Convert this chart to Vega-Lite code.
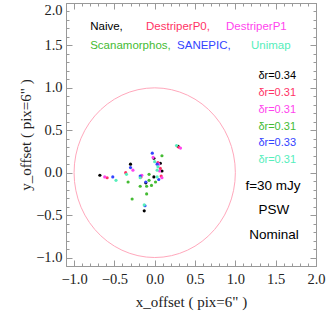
{
  "$schema": "https://vega.github.io/schema/vega-lite/v6.json",
  "width": 250,
  "height": 263,
  "autosize": {"type": "none"},
  "padding": {"left": 66, "top": 3, "right": 11, "bottom": 53},
  "background": "white",
  "config": {
    "view": {"stroke": "#999999", "strokeWidth": 1},
    "axis": {
      "domain": false,
      "grid": false,
      "labelFont": "Liberation Serif",
      "labelFontSize": 14.5,
      "labelColor": "#222222",
      "titleFont": "Liberation Serif",
      "titleFontSize": 15,
      "titleFontWeight": "normal",
      "titleColor": "#222222",
      "tickColor": "#999999",
      "labelOverlap": false,
      "labelFlush": false
    },
    "text": {"font": "Liberation Sans"}
  },
  "datasets": {
    "one": [{}],
    "circle": [
      {"i":0,"x":1,"y":0},{"i":1,"x":0.9945,"y":0.1045},{"i":2,"x":0.9781,"y":0.2079},{"i":3,"x":0.9511,"y":0.309},{"i":4,"x":0.9135,"y":0.4067},{"i":5,"x":0.866,"y":0.5},{"i":6,"x":0.809,"y":0.5878},{"i":7,"x":0.7431,"y":0.6691},{"i":8,"x":0.6691,"y":0.7431},{"i":9,"x":0.5878,"y":0.809},{"i":10,"x":0.5,"y":0.866},{"i":11,"x":0.4067,"y":0.9135},{"i":12,"x":0.309,"y":0.9511},{"i":13,"x":0.2079,"y":0.9781},{"i":14,"x":0.1045,"y":0.9945},{"i":15,"x":0,"y":1},
      {"i":16,"x":-0.1045,"y":0.9945},{"i":17,"x":-0.2079,"y":0.9781},{"i":18,"x":-0.309,"y":0.9511},{"i":19,"x":-0.4067,"y":0.9135},{"i":20,"x":-0.5,"y":0.866},{"i":21,"x":-0.5878,"y":0.809},{"i":22,"x":-0.6691,"y":0.7431},{"i":23,"x":-0.7431,"y":0.6691},{"i":24,"x":-0.809,"y":0.5878},{"i":25,"x":-0.866,"y":0.5},{"i":26,"x":-0.9135,"y":0.4067},{"i":27,"x":-0.9511,"y":0.309},{"i":28,"x":-0.9781,"y":0.2079},{"i":29,"x":-0.9945,"y":0.1045},{"i":30,"x":-1,"y":0},
      {"i":31,"x":-0.9945,"y":-0.1045},{"i":32,"x":-0.9781,"y":-0.2079},{"i":33,"x":-0.9511,"y":-0.309},{"i":34,"x":-0.9135,"y":-0.4067},{"i":35,"x":-0.866,"y":-0.5},{"i":36,"x":-0.809,"y":-0.5878},{"i":37,"x":-0.7431,"y":-0.6691},{"i":38,"x":-0.6691,"y":-0.7431},{"i":39,"x":-0.5878,"y":-0.809},{"i":40,"x":-0.5,"y":-0.866},{"i":41,"x":-0.4067,"y":-0.9135},{"i":42,"x":-0.309,"y":-0.9511},{"i":43,"x":-0.2079,"y":-0.9781},{"i":44,"x":-0.1045,"y":-0.9945},{"i":45,"x":0,"y":-1},
      {"i":46,"x":0.1045,"y":-0.9945},{"i":47,"x":0.2079,"y":-0.9781},{"i":48,"x":0.309,"y":-0.9511},{"i":49,"x":0.4067,"y":-0.9135},{"i":50,"x":0.5,"y":-0.866},{"i":51,"x":0.5878,"y":-0.809},{"i":52,"x":0.6691,"y":-0.7431},{"i":53,"x":0.7431,"y":-0.6691},{"i":54,"x":0.809,"y":-0.5878},{"i":55,"x":0.866,"y":-0.5},{"i":56,"x":0.9135,"y":-0.4067},{"i":57,"x":0.9511,"y":-0.309},{"i":58,"x":0.9781,"y":-0.2079},{"i":59,"x":0.9945,"y":-0.1045},{"i":60,"x":1,"y":0}
    ],
    "pts": [
      {"m":"Naive","x":-0.68,"y":-0.03},{"m":"Naive","x":-0.30,"y":0.10},{"m":"Naive","x":-0.13,"y":-0.45},{"m":"Naive","x":-0.01,"y":0.17},{"m":"Naive","x":0.07,"y":0.11},{"m":"Naive","x":0.09,"y":0.02},{"m":"Naive","x":-0.01,"y":-0.05},{"m":"Naive","x":-0.11,"y":-0.12},{"m":"Naive","x":0.29,"y":0.31},
      {"m":"DestriperP0","x":-0.59,"y":-0.06},{"m":"DestriperP0","x":-0.36,"y":0.00},{"m":"DestriperP0","x":-0.17,"y":-0.05},{"m":"DestriperP0","x":0.04,"y":0.12},{"m":"DestriperP0","x":0.07,"y":0.05},{"m":"DestriperP0","x":0.08,"y":-0.04},{"m":"DestriperP0","x":0.30,"y":0.30},
      {"m":"DestriperP1","x":-0.62,"y":-0.05},{"m":"DestriperP1","x":-0.27,"y":0.03},{"m":"DestriperP1","x":-0.16,"y":-0.03},{"m":"DestriperP1","x":-0.02,"y":0.18},{"m":"DestriperP1","x":0.06,"y":0.02},{"m":"DestriperP1","x":0.09,"y":-0.06},{"m":"DestriperP1","x":0.32,"y":0.29},{"m":"DestriperP1","x":0.05,"y":0.10},
      {"m":"Scanamorphos","x":-0.33,"y":-0.11},{"m":"Scanamorphos","x":-0.28,"y":-0.31},{"m":"Scanamorphos","x":-0.18,"y":-0.16},{"m":"Scanamorphos","x":-0.10,"y":-0.25},{"m":"Scanamorphos","x":-0.10,"y":-0.16},{"m":"Scanamorphos","x":-0.07,"y":-0.09},{"m":"Scanamorphos","x":0.01,"y":-0.11},{"m":"Scanamorphos","x":0.09,"y":0.20},{"m":"Scanamorphos","x":-0.07,"y":-0.02},{"m":"Scanamorphos","x":-0.04,"y":-0.15},
      {"m":"SANEPIC","x":-0.52,"y":-0.05},{"m":"SANEPIC","x":-0.30,"y":0.06},{"m":"SANEPIC","x":-0.18,"y":-0.04},{"m":"SANEPIC","x":-0.12,"y":-0.39},{"m":"SANEPIC","x":-0.03,"y":0.23},{"m":"SANEPIC","x":0.05,"y":-0.08},{"m":"SANEPIC","x":-0.11,"y":-0.11},{"m":"SANEPIC","x":0.03,"y":0.10},
      {"m":"Unimap","x":-0.48,"y":-0.09},{"m":"Unimap","x":-0.35,"y":-0.02},{"m":"Unimap","x":-0.13,"y":-0.38},{"m":"Unimap","x":0.00,"y":0.13},{"m":"Unimap","x":0.04,"y":0.07},{"m":"Unimap","x":0.03,"y":0.03},{"m":"Unimap","x":0.27,"y":0.32},{"m":"Unimap","x":-0.18,"y":-0.06},{"m":"Unimap","x":0.03,"y":-0.05}
    ]
  },
  "resolve": {"axis": {"x": "independent", "y": "independent"}},
  "layer": [
    {
      "data": {"name": "circle"},
      "mark": {"type": "line", "color": "#ffa8bc", "strokeWidth": 1},
      "encoding": {
        "x": {"field": "x", "type": "quantitative", "scale": {"domain": [-1.1, 2.0], "nice": false, "zero": false},
              "axis": {"orient": "bottom", "values": [-1, -0.5, 0, 0.5, 1, 1.5, 2], "format": ".1f", "offset": -6, "tickSize": 6, "labelPadding": 6, "title": "x_offset ( pix=6\" )", "titlePadding": 9}},
        "y": {"field": "y", "type": "quantitative", "scale": {"domain": [-1.1, 2.0], "nice": false, "zero": false},
              "axis": {"orient": "left", "values": [-1, -0.5, 0, 0.5, 1, 1.5, 2], "format": ".1f", "offset": -6, "tickSize": 6, "labelPadding": 4, "labelFlush": true, "title": "y_offset ( pix=6\" )", "titlePadding": 2}},
        "order": {"field": "i", "type": "quantitative"}
      }
    },
    {
      "data": {"name": "pts"},
      "mark": {"type": "point", "filled": true, "shape": "circle", "size": 10, "opacity": 1},
      "encoding": {
        "x": {"field": "x", "type": "quantitative",
              "axis": {"orient": "bottom", "values": [-1.1,-1,-0.9,-0.8,-0.7,-0.6,-0.5,-0.4,-0.3,-0.2,-0.1,0,0.1,0.2,0.3,0.4,0.5,0.6,0.7,0.8,0.9,1,1.1,1.2,1.3,1.4,1.5,1.6,1.7,1.8,1.9,2], "labels": false, "offset": -3, "tickSize": 3, "title": null}},
        "y": {"field": "y", "type": "quantitative",
              "axis": {"orient": "left", "values": [-1.1,-1,-0.9,-0.8,-0.7,-0.6,-0.5,-0.4,-0.3,-0.2,-0.1,0,0.1,0.2,0.3,0.4,0.5,0.6,0.7,0.8,0.9,1,1.1,1.2,1.3,1.4,1.5,1.6,1.7,1.8,1.9,2], "labels": false, "offset": -3, "tickSize": 3, "title": null}},
        "color": {"field": "m", "type": "nominal", "legend": null,
                  "scale": {"domain": ["Naive", "DestriperP0", "DestriperP1", "Scanamorphos", "SANEPIC", "Unimap"],
                            "range": ["#000000", "#ff3366", "#ff44ee", "#44bb33", "#3344ff", "#55eebb"]}}
      }
    },
    {
      "data": {"name": "one"},
      "mark": {"type": "text", "align": "left", "baseline": "middle", "fontSize": 11.5, "color": "#000000"},
      "encoding": {
        "x": {"datum": -0.80, "type": "quantitative", "axis": {"orient": "top", "values": [-1.1,-1,-0.9,-0.8,-0.7,-0.6,-0.5,-0.4,-0.3,-0.2,-0.1,0,0.1,0.2,0.3,0.4,0.5,0.6,0.7,0.8,0.9,1,1.1,1.2,1.3,1.4,1.5,1.6,1.7,1.8,1.9,2], "labels": false, "offset": -3, "tickSize": 3, "title": null}},
        "y": {"datum": 1.717, "type": "quantitative", "axis": {"orient": "right", "values": [-1.1,-1,-0.9,-0.8,-0.7,-0.6,-0.5,-0.4,-0.3,-0.2,-0.1,0,0.1,0.2,0.3,0.4,0.5,0.6,0.7,0.8,0.9,1,1.1,1.2,1.3,1.4,1.5,1.6,1.7,1.8,1.9,2], "labels": false, "offset": -3, "tickSize": 3, "title": null}},
        "text": {"value": "Naive,"}
      }
    },
    {
      "data": {"name": "one"},
      "mark": {"type": "text", "align": "left", "baseline": "middle", "fontSize": 11.5, "color": "#ff3366"},
      "encoding": {
        "x": {"datum": -0.108, "type": "quantitative", "axis": {"orient": "top", "values": [-1, -0.5, 0, 0.5, 1, 1.5, 2], "labels": false, "offset": -6, "tickSize": 6, "title": null}},
        "y": {"datum": 1.717, "type": "quantitative", "axis": {"orient": "right", "values": [-1, -0.5, 0, 0.5, 1, 1.5, 2], "labels": false, "offset": -6, "tickSize": 6, "title": null}},
        "text": {"value": "DestriperP0,"}
      }
    },
    {
      "data": {"name": "one"},
      "mark": {"type": "text", "align": "left", "baseline": "middle", "fontSize": 11.5, "color": "#ff44ee"},
      "encoding": {
        "x": {"datum": 0.884, "type": "quantitative", "axis": null},
        "y": {"datum": 1.717, "type": "quantitative", "axis": null},
        "text": {"value": "DestriperP1"}
      }
    },
    {
      "data": {"name": "one"},
      "mark": {"type": "text", "align": "left", "baseline": "middle", "fontSize": 11.5, "color": "#44bb33"},
      "encoding": {
        "x": {"datum": -0.80, "type": "quantitative", "axis": null},
        "y": {"datum": 1.493, "type": "quantitative", "axis": null},
        "text": {"value": "Scanamorphos,"}
      }
    },
    {
      "data": {"name": "one"},
      "mark": {"type": "text", "align": "left", "baseline": "middle", "fontSize": 11.5, "color": "#3344ff"},
      "encoding": {
        "x": {"datum": 0.277, "type": "quantitative", "axis": null},
        "y": {"datum": 1.493, "type": "quantitative", "axis": null},
        "text": {"value": "SANEPIC,"}
      }
    },
    {
      "data": {"name": "one"},
      "mark": {"type": "text", "align": "left", "baseline": "middle", "fontSize": 11.5, "color": "#55eebb"},
      "encoding": {
        "x": {"datum": 1.194, "type": "quantitative", "axis": null},
        "y": {"datum": 1.493, "type": "quantitative", "axis": null},
        "text": {"value": "Unimap"}
      }
    },
    {
      "data": {"name": "one"},
      "mark": {"type": "text", "align": "right", "baseline": "middle", "fontSize": 11, "color": "#000000"},
      "encoding": {
        "x": {"datum": 1.752, "type": "quantitative", "axis": null},
        "y": {"datum": 1.139, "type": "quantitative", "axis": null},
        "text": {"value": "δr=0.34"}
      }
    },
    {
      "data": {"name": "one"},
      "mark": {"type": "text", "align": "right", "baseline": "middle", "fontSize": 11, "color": "#ff3366"},
      "encoding": {
        "x": {"datum": 1.752, "type": "quantitative", "axis": null},
        "y": {"datum": 0.939, "type": "quantitative", "axis": null},
        "text": {"value": "δr=0.31"}
      }
    },
    {
      "data": {"name": "one"},
      "mark": {"type": "text", "align": "right", "baseline": "middle", "fontSize": 11, "color": "#ff44ee"},
      "encoding": {
        "x": {"datum": 1.752, "type": "quantitative", "axis": null},
        "y": {"datum": 0.738, "type": "quantitative", "axis": null},
        "text": {"value": "δr=0.31"}
      }
    },
    {
      "data": {"name": "one"},
      "mark": {"type": "text", "align": "right", "baseline": "middle", "fontSize": 11, "color": "#44bb33"},
      "encoding": {
        "x": {"datum": 1.752, "type": "quantitative", "axis": null},
        "y": {"datum": 0.538, "type": "quantitative", "axis": null},
        "text": {"value": "δr=0.31"}
      }
    },
    {
      "data": {"name": "one"},
      "mark": {"type": "text", "align": "right", "baseline": "middle", "fontSize": 11, "color": "#3344ff"},
      "encoding": {
        "x": {"datum": 1.752, "type": "quantitative", "axis": null},
        "y": {"datum": 0.349, "type": "quantitative", "axis": null},
        "text": {"value": "δr=0.33"}
      }
    },
    {
      "data": {"name": "one"},
      "mark": {"type": "text", "align": "right", "baseline": "middle", "fontSize": 11, "color": "#55eebb"},
      "encoding": {
        "x": {"datum": 1.752, "type": "quantitative", "axis": null},
        "y": {"datum": 0.149, "type": "quantitative", "axis": null},
        "text": {"value": "δr=0.31"}
      }
    },
    {
      "data": {"name": "one"},
      "mark": {"type": "text", "align": "center", "baseline": "middle", "fontSize": 13.5, "color": "#000000"},
      "encoding": {
        "x": {"datum": 1.467, "type": "quantitative", "axis": null},
        "y": {"datum": -0.158, "type": "quantitative", "axis": null},
        "text": {"value": "f=30 mJy"}
      }
    },
    {
      "data": {"name": "one"},
      "mark": {"type": "text", "align": "center", "baseline": "middle", "fontSize": 13.5, "color": "#000000"},
      "encoding": {
        "x": {"datum": 1.479, "type": "quantitative", "axis": null},
        "y": {"datum": -0.441, "type": "quantitative", "axis": null},
        "text": {"value": "PSW"}
      }
    },
    {
      "data": {"name": "one"},
      "mark": {"type": "text", "align": "center", "baseline": "middle", "fontSize": 13.5, "color": "#000000"},
      "encoding": {
        "x": {"datum": 1.479, "type": "quantitative", "axis": null},
        "y": {"datum": -0.736, "type": "quantitative", "axis": null},
        "text": {"value": "Nominal"}
      }
    }
  ]
}
